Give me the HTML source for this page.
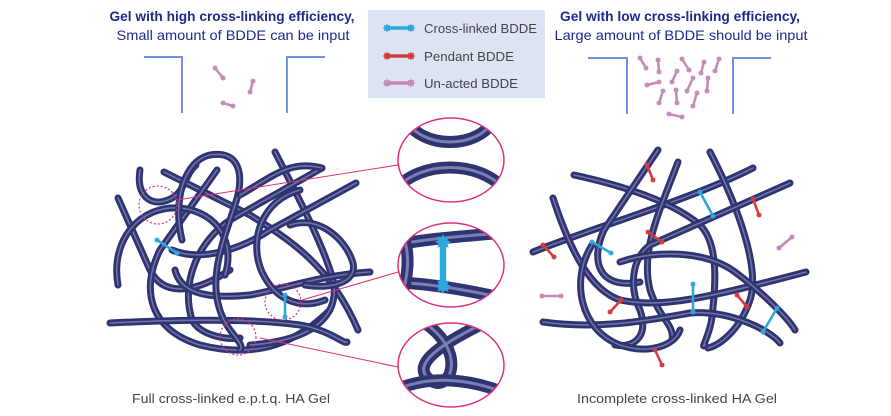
<!DOCTYPE html>
<html><head><meta charset="utf-8"><style>
html,body{margin:0;padding:0;background:#fff;width:891px;height:416px;overflow:hidden}
svg text{font-family:"Liberation Sans",sans-serif}
</style></head><body>
<svg id="s" width="891" height="416" viewBox="0 0 891 416">
<defs>
<clipPath id="c1"><ellipse cx="451" cy="160" rx="53" ry="42"/></clipPath>
<clipPath id="c2"><ellipse cx="451" cy="265" rx="53" ry="42"/></clipPath>
<clipPath id="c3"><ellipse cx="451" cy="365" rx="53" ry="42"/></clipPath>
</defs>
<!-- titles -->
<text x="232" y="21" text-anchor="middle" font-size="14" font-weight="bold" fill="#1c2a8c" textLength="245" lengthAdjust="spacingAndGlyphs">Gel with high cross-linking efficiency,</text>
<text x="233" y="40" text-anchor="middle" font-size="14" fill="#1c2a8c" textLength="233" lengthAdjust="spacingAndGlyphs">Small amount of BDDE can be input</text>
<text x="680" y="21" text-anchor="middle" font-size="14" font-weight="bold" fill="#1c2a8c" textLength="240" lengthAdjust="spacingAndGlyphs">Gel with low cross-linking efficiency,</text>
<text x="681" y="40" text-anchor="middle" font-size="14" fill="#1c2a8c" textLength="253" lengthAdjust="spacingAndGlyphs">Large amount of BDDE should be input</text>
<!-- funnels -->
<g stroke="#6f93e0" stroke-width="2" fill="none">
<path d="M144,57 H182 V113"/><path d="M287,113 V57 H325"/></g>
<g stroke="#6f93e0" stroke-width="2" fill="none">
<path d="M588,58 H627 V114"/><path d="M733,114 V58 H771"/></g>
<!-- legend -->
<rect x="368" y="10" width="177" height="88" fill="#dce4f4"/>
<g id="leg"></g>
<text x="424" y="33" font-size="13" fill="#444" textLength="113" lengthAdjust="spacingAndGlyphs">Cross-linked BDDE</text>
<text x="424" y="61" font-size="13" fill="#444" textLength="90" lengthAdjust="spacingAndGlyphs">Pendant BDDE</text>
<text x="424" y="88" font-size="13" fill="#444" textLength="94" lengthAdjust="spacingAndGlyphs">Un-acted BDDE</text>
<g id="strands"></g>
<g id="mols"></g>
<!-- callouts -->
<g fill="none" stroke="#e0307a" stroke-width="1">
<path d="M177,200 L398,165"/><path d="M302,300 L398,272"/><path d="M260,338 L398,367"/></g>
<g fill="none" stroke="#e0307a" stroke-width="1.2" stroke-dasharray="2,2">
<circle cx="158" cy="205" r="19"/><circle cx="283" cy="302" r="18"/><circle cx="238" cy="337" r="18"/></g>
<g id="zoomc"></g>
<g fill="none" stroke="#e0307a" stroke-width="1.5">
<ellipse cx="451" cy="160" rx="53" ry="42"/><ellipse cx="451" cy="265" rx="53" ry="42"/><ellipse cx="451" cy="365" rx="53" ry="42"/></g>
<text x="231" y="403" text-anchor="middle" font-size="13" fill="#444" textLength="198" lengthAdjust="spacingAndGlyphs">Full cross-linked e.p.t.q. HA Gel</text>
<text x="677" y="403" text-anchor="middle" font-size="13" fill="#444" textLength="200" lengthAdjust="spacingAndGlyphs">Incomplete cross-linked HA Gel</text>
</svg>
<script>
const NS="http://www.w3.org/2000/svg";
function mk(tag,attrs,parent){const e=document.createElementNS(NS,tag);for(const k in attrs)e.setAttribute(k,attrs[k]);parent.appendChild(e);return e;}
const leftPaths=[
"M118,198 L150,270 C165,300 200,290 230,270",
"M140,170 C136,195 150,207 168,200 C186,193 184,175 196,165",
"M164,172 L250,215 C290,240 330,265 358,330",
"M217,170 L160,250 C140,290 150,330 200,345 C260,360 300,340 330,310",
"M275,152 C300,200 320,240 330,270 C345,310 320,340 250,345",
"M322,168 L230,220 C200,240 180,280 192,320 C200,335 225,340 240,338",
"M356,183 L270,230 C240,250 200,262 172,250",
"M110,323 C170,320 250,318 300,325 C330,330 345,345 347,342",
"M370,272 C320,275 280,290 250,295 C200,300 180,290 175,270",
"M300,190 C262,200 248,240 262,272 C275,300 300,310 325,300",
"M118,285 C110,240 140,205 180,208 C220,212 235,245 225,275",
"M182,240 C172,200 185,160 210,155 C240,150 245,175 235,205 C222,245 205,285 225,322 C232,335 245,345 240,350",
"M290,225 C320,215 345,240 352,260 C360,280 335,290 305,285",
"M240,195 C275,175 290,160 322,168"
];
const rightPaths=[
"M533,252 C600,225 690,200 753,168",
"M574,175 C620,185 670,200 700,225 C720,245 715,290 712,317 C710,335 700,350 705,345",
"M658,150 L604,230 C590,260 598,290 640,282",
"M678,162 C660,210 640,250 650,290 C660,320 675,325 672,340",
"M710,152 C740,210 760,270 750,300 C740,330 720,345 708,348",
"M790,183 L650,245 C630,260 630,290 640,310 C650,340 630,348 615,345",
"M553,198 C570,250 590,290 620,300 C660,308 700,300 806,272",
"M543,322 C600,330 650,320 690,313 C730,310 770,330 780,343",
"M592,245 C570,280 580,330 620,345 C650,355 675,345 680,330",
"M620,262 C655,250 705,250 735,272 C762,292 788,318 795,330"
];
const sg=document.getElementById('strands');
function strand(d,i,side){
  const p1=mk('path',{d:d,fill:'none',stroke:'#2f3370','stroke-width':7,'stroke-linecap':'round'},sg);
  
  
  mk('path',{d:d,fill:'none',stroke:'#6e73a8','stroke-width':1.6,'stroke-linecap':'round'},sg);
}
leftPaths.forEach((d,i)=>strand(d,i,'left'));
rightPaths.forEach((d,i)=>strand(d,i,'right'));
const COL={x:'#2ea7dc',p:'#d83a3c',u:'#c58ab8'};
function star(g,x,y,c,r){
  let pts=[];for(let k=0;k<16;k++){const a=k*Math.PI/8;const rr=k%2?r*0.6:r;pts.push((x+rr*Math.cos(a)).toFixed(1)+','+(y+rr*Math.sin(a)).toFixed(1));}
  mk('polygon',{points:pts.join(' '),fill:c},g);
}
function mol(parent,x1,y1,x2,y2,t,name,r){
  r=r||3.2;
  const g=mk('g',{},parent);
  
  
  mk('line',{x1:x1,y1:y1,x2:x2,y2:y2,stroke:COL[t],'stroke-width':r*0.8},g);
  star(g,x1,y1,COL[t],r);star(g,x2,y2,COL[t],r);
}
const lg=document.getElementById('leg');
mol(lg,387,28,411,28,'x','legend-icon-cross-linked',4.5);
mol(lg,387,56,411,56,'p','legend-icon-pendant',4.5);
mol(lg,387,83,411,83,'u','legend-icon-unacted',4.5);
const mg=document.getElementById('mols');
const mols=[
[215,68,223,78,'u'],[253,81,250,92,'u'],[223,103,233,106,'u'],
[640,58,646,68,'u'],[658,60,659,72,'u'],[682,59,689,70,'u'],[704,62,701,73,'u'],[719,59,715,71,'u'],
[647,85,659,82,'u'],[677,71,672,82,'u'],[693,78,687,91,'u'],[708,78,707,91,'u'],[663,91,659,103,'u'],
[676,90,677,103,'u'],[697,93,693,106,'u'],[669,114,682,117,'u'],
[157,240,177,253,'x'],[285,295,285,317,'x'],
[700,192,713,216,'x'],[592,242,611,253,'x'],[693,284,693,312,'x'],[777,308,763,332,'x'],
[647,165,653,180,'p'],[753,199,759,215,'p'],[543,245,554,257,'p'],[648,232,662,242,'p'],
[621,300,610,312,'p'],[747,307,737,295,'p'],[655,350,662,365,'p'],
[779,248,792,237,'u'],[542,296,561,296,'u']
];
mols.forEach((m,i)=>mol(mg,m[0],m[1],m[2],m[3],m[4],'bdde-'+i));
// zoom circle contents
const zc=document.getElementById('zoomc');
function zstrand(d,clip,name){
  const g=mk('g',{'clip-path':'url(#'+clip+')'},zc);
  
  
  mk('path',{d:d,fill:'none',stroke:'#2f3370','stroke-width':12},g);
  mk('path',{d:d,fill:'none',stroke:'#7a7fb2','stroke-width':3},g);
}
zstrand("M405,118 C420,150 480,150 495,118",'c1','zoom1-top-strand');
zstrand("M395,190 C420,160 480,160 505,190",'c1','zoom1-bottom-strand');
zstrand("M395,245 C430,238 470,236 510,232",'c2','zoom2-top-strand');
zstrand("M395,282 C430,284 470,290 510,300",'c2','zoom2-bottom-strand');
zstrand("M400,230 C412,250 408,280 400,300",'c2','zoom2-side-strand');
mol(zc,443,242,443,286,'x','zoom2-link',8);
zstrand("M420,320 C470,350 450,395 430,380 C410,365 440,345 480,325",'c3','zoom3-knot-a');
zstrand("M395,390 C430,375 470,378 510,395",'c3','zoom3-knot-b');
</script>
</body></html>
